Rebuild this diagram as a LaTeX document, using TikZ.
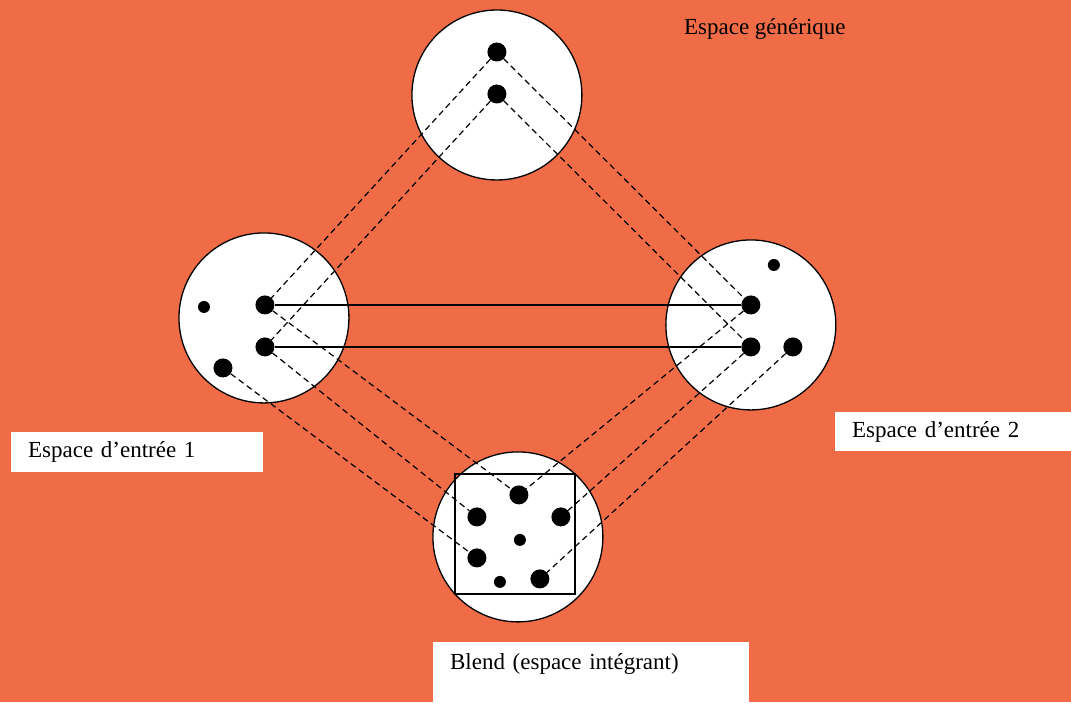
\documentclass[tikz,border=0pt]{standalone}
\usepackage{fontspec}
\setmainfont{Liberation Serif}
\usetikzlibrary{positioning}
\definecolor{blendorange}{RGB}{240,108,70}

\begin{document}
\begin{tikzpicture}[x=1pt, y=-1pt,
    space/.style={circle, draw, fill=white, line width=1.3pt, minimum size=170pt, inner sep=0pt},
    bigdot/.style={circle, fill=black, minimum size=19pt, inner sep=0pt},
    smalldot/.style={circle, fill=black, minimum size=12pt, inner sep=0pt},
    link/.style={dash pattern=on 6pt off 4pt, line width=1.2pt},
    map/.style={line width=1.4pt},
    tagbox/.style={fill=white, anchor=north west, align=left, inner xsep=17pt, font=\fontsize{23}{27}\selectfont}
]
    % background
    \fill[blendorange] (0,0) rectangle (1071,702);

    % the four spaces
    \node[space] (gen) at (497,95) {};
    \node[space] (in1) at (264,318) {};
    \node[space] (in2) at (751,325) {};
    \node[space] (blend) at (518,537) {};
    \node[draw, line width=1.8pt, minimum size=120pt, inner sep=0pt] (frame) at (515,534) {};

    % elements
    \node[bigdot] (g1) at (497,52) {};
    \node[bigdot] (g2) at (497,94) {};

    \node[bigdot] (a1) at (265,305) {};
    \node[bigdot] (a2) at (265,347) {};
    \node[smalldot] (a3) at (204,307) {};
    \node[bigdot] (a4) at (223,368) {};

    \node[bigdot] (b1) at (751,305) {};
    \node[bigdot] (b2) at (751,347) {};
    \node[smalldot] (b3) at (774,265) {};
    \node[bigdot] (b4) at (793,347) {};

    \node[bigdot] (c1) at (519,495) {};
    \node[bigdot] (c2) at (477,517) {};
    \node[bigdot] (c3) at (561,517) {};
    \node[smalldot] (c4) at (520,540) {};
    \node[bigdot] (c5) at (477,558) {};
    \node[smalldot] (c6) at (500,582) {};
    \node[bigdot] (c7) at (540,579) {};

    % counterparts between the inputs
    \draw[map] (a1) -- (b1);
    \draw[map] (a2) -- (b2);

    % projections
    \draw[link] (g1) -- (a1);
    \draw[link] (g2) -- (a2);
    \draw[link] (g1) -- (b1);
    \draw[link] (g2) -- (b2);
    \draw[link] (a1) -- (c1);
    \draw[link] (a2) -- (c2);
    \draw[link] (a4) -- (c5);
    \draw[link] (b1) -- (c1);
    \draw[link] (b2) -- (c3);
    \draw[link] (b4) -- (c7);

    % labels
    \node[font=\fontsize{23}{27}\selectfont] (tgen) at (765,29) {Espace générique};
    \node[tagbox, text width=218pt, minimum height=40pt] (t1) at (11,432) {Espace d’entrée 1};
    \node[tagbox, text width=202pt, minimum height=39pt] (t2) at (835,412) {Espace d’entrée 2};
    \node[tagbox, text width=282pt, inner ysep=5pt, text height=22pt, text depth=28pt] (t3) at (433,642) {Blend (espace intégrant)};
\end{tikzpicture}
\end{document}
